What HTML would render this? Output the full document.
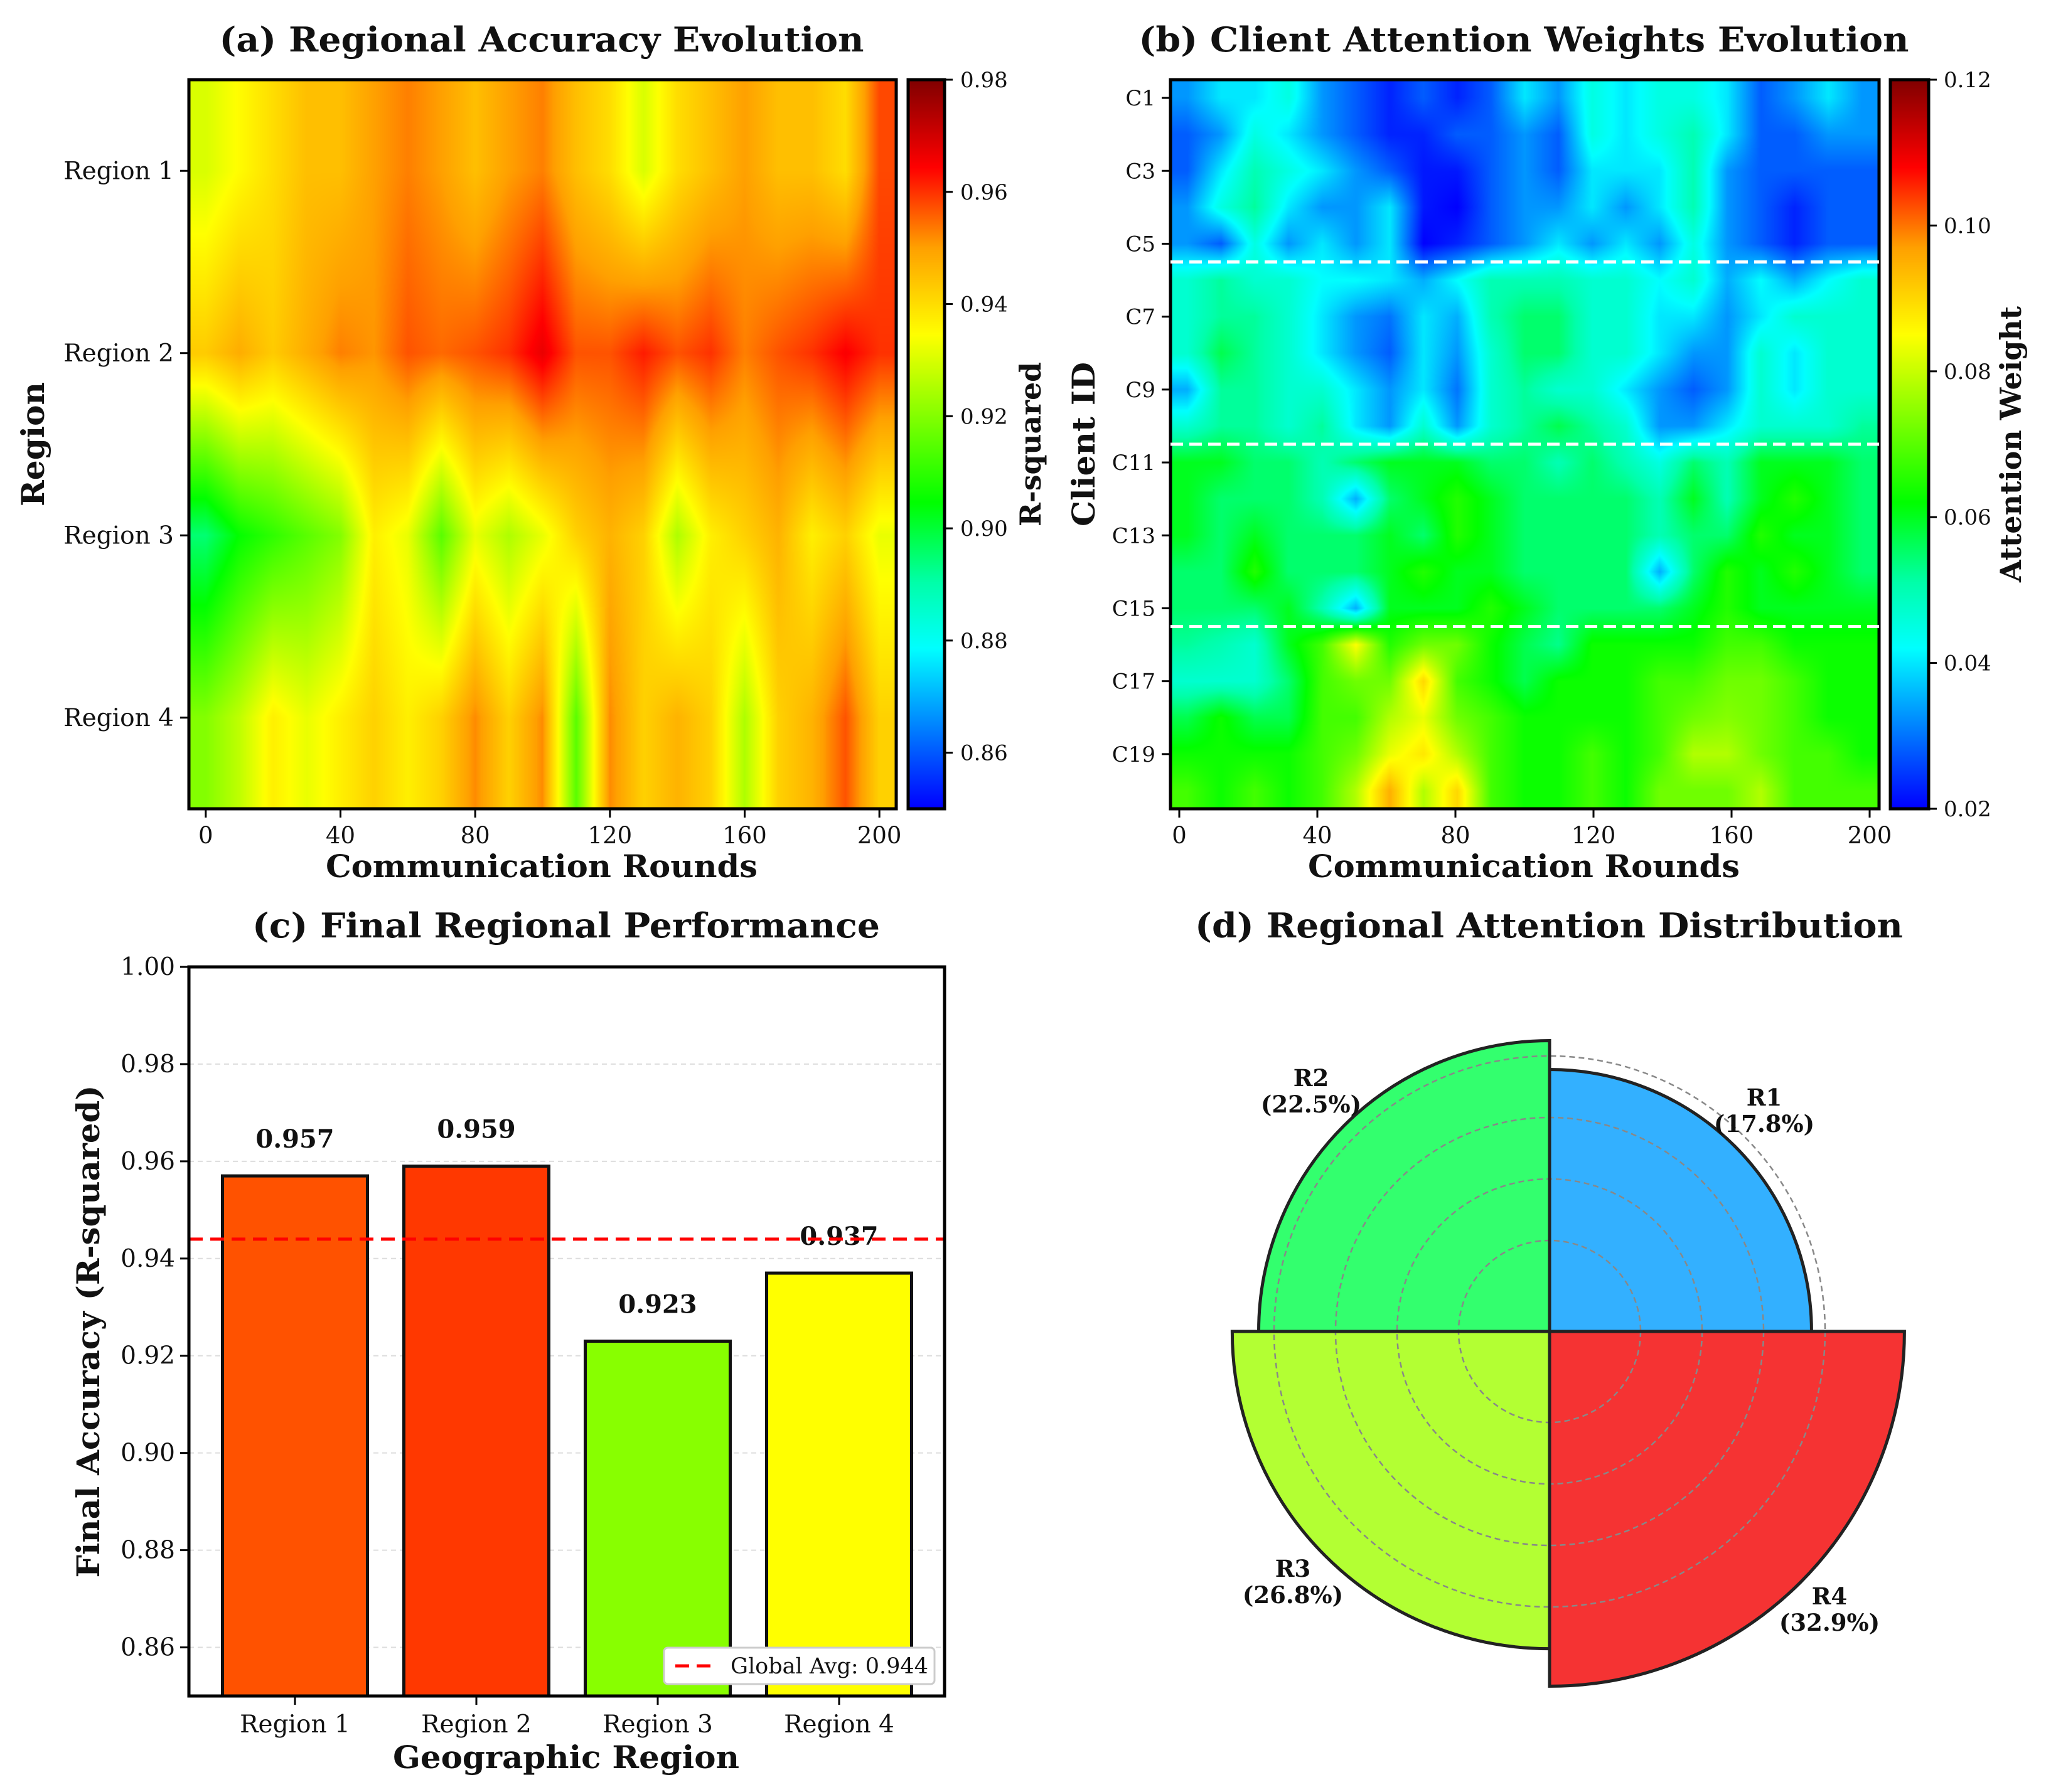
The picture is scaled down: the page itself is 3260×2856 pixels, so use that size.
<!DOCTYPE html>
<html><head><meta charset="utf-8"><title>Regional Federated Learning Dashboard</title>
<style>
html,body{margin:0;padding:0;background:#fff;}
#root{position:relative;width:3260px;height:2856px;overflow:hidden;background:#fff;}
canvas{position:absolute;}
svg{position:absolute;left:0;top:0;}
text{font-family:"DejaVu Serif","Liberation Serif",serif;fill:#111;}
</style></head>
<body>
<div id="root">
<canvas id="hmA" style="left:301px;top:127px" width="1127" height="1162"></canvas>
<canvas id="cbA" style="left:1447px;top:127px" width="58" height="1162"></canvas>
<canvas id="hmB" style="left:1865px;top:127px" width="1129" height="1162"></canvas>
<canvas id="cbB" style="left:3012px;top:127px" width="61" height="1162"></canvas>
<svg id="svg" width="3260" height="2856" viewBox="0 0 3260 2856"></svg>
</div>
<script>
// ---- data: panel (a) regional accuracy (rows Region1..4, rounds 0..200 step 10)
const regionNames = ["Region 1","Region 2","Region 3","Region 4"];
const roundTicks = [0,40,80,120,160,200];
const accR1 = [0.93,0.935,0.94,0.945,0.945,0.95,0.953,0.95,0.945,0.95,0.953,0.945,0.94,0.93,0.94,0.945,0.95,0.945,0.945,0.94,0.958];
const accR2 = [0.943,0.948,0.943,0.948,0.953,0.951,0.957,0.955,0.957,0.96,0.967,0.957,0.957,0.962,0.957,0.96,0.953,0.957,0.96,0.965,0.96];
const accR3 = [0.895,0.905,0.91,0.915,0.92,0.937,0.932,0.915,0.932,0.925,0.932,0.942,0.947,0.942,0.925,0.937,0.942,0.947,0.937,0.942,0.932];
const accR4 = [0.92,0.927,0.937,0.932,0.937,0.942,0.937,0.942,0.952,0.942,0.952,0.915,0.952,0.942,0.947,0.942,0.925,0.942,0.947,0.957,0.942];
const accTicks = [0.86,0.88,0.90,0.92,0.94,0.96,0.98];
// ---- data: panel (b) client attention (C1..C20)
const clientLabels = ["C1","C3","C5","C7","C9","C11","C13","C15","C17","C19"];
const attC1=[.033,.04,.04,.045,.033,.028,.023,.028,.023,.028,.04,.033,.045,.04,.045,.045,.04,.028,.033,.04,.033];
const attC2=[.028,.033,.045,.04,.033,.028,.023,.023,.028,.028,.033,.028,.045,.04,.045,.05,.04,.028,.028,.033,.033];
const attC3=[.028,.04,.05,.045,.04,.033,.028,.022,.022,.028,.033,.028,.04,.04,.04,.05,.033,.028,.028,.028,.028];
const attC4=[.033,.045,.052,.04,.033,.033,.04,.022,.02,.028,.033,.033,.04,.033,.04,.05,.033,.028,.023,.028,.028];
const attC5=[.033,.028,.045,.033,.04,.033,.04,.02,.023,.028,.033,.04,.033,.04,.033,.045,.033,.028,.023,.028,.028];
const attC6=[.047,.052,.047,.047,.042,.042,.04,.035,.042,.05,.05,.05,.047,.047,.042,.047,.035,.042,.035,.042,.047];
const attC7=[.047,.052,.052,.047,.04,.033,.03,.04,.035,.05,.055,.055,.047,.047,.04,.04,.033,.04,.047,.047,.047];
const attC8=[.047,.057,.052,.047,.04,.033,.028,.04,.033,.047,.055,.055,.047,.047,.04,.033,.033,.047,.04,.047,.047];
const attC9=[.035,.052,.052,.047,.047,.04,.033,.04,.03,.047,.052,.047,.047,.04,.033,.028,.033,.047,.04,.047,.047];
const attC10=[.047,.052,.052,.047,.052,.04,.033,.047,.033,.047,.052,.057,.052,.047,.033,.033,.04,.047,.047,.047,.052];
const attC11=[.06,.06,.055,.055,.05,.055,.06,.06,.06,.055,.055,.05,.055,.05,.045,.055,.05,.06,.06,.06,.055];
const attC12=[.06,.055,.055,.055,.05,.035,.055,.06,.065,.06,.055,.055,.055,.055,.05,.06,.05,.06,.065,.06,.055];
const attC13=[.06,.055,.06,.055,.055,.055,.06,.055,.065,.06,.055,.055,.055,.055,.05,.055,.055,.065,.06,.06,.055];
const attC14=[.055,.055,.065,.055,.055,.055,.06,.065,.06,.06,.055,.055,.055,.055,.035,.055,.065,.06,.065,.06,.055];
const attC15=[.055,.055,.055,.06,.05,.035,.06,.06,.06,.065,.06,.055,.055,.055,.055,.06,.065,.06,.06,.06,.06];
const attC16=[.052,.05,.047,.06,.068,.085,.065,.072,.072,.063,.057,.053,.063,.063,.063,.063,.068,.068,.063,.063,.063];
const attC17=[.047,.047,.047,.055,.068,.072,.072,.09,.068,.063,.057,.063,.063,.063,.068,.068,.072,.072,.068,.063,.063];
const attC18=[.057,.063,.057,.057,.068,.068,.078,.083,.072,.068,.063,.063,.063,.063,.068,.072,.074,.072,.068,.063,.063];
const attC19=[.063,.063,.063,.063,.068,.072,.083,.088,.078,.068,.063,.063,.068,.063,.068,.078,.078,.072,.068,.068,.063];
const attC20=[.068,.063,.068,.063,.068,.078,.095,.078,.09,.068,.063,.063,.068,.063,.072,.072,.072,.078,.068,.068,.068];
const attTicks = [0.02,0.04,0.06,0.08,0.10,0.12];
// ---- data: panel (c) final performance
const finalAcc = [0.957,0.959,0.923,0.937];
const barColors = ["#ff5200","#ff3800","#88ff00","#ffff00"];
const globalAvg = 0.944;
const perfTicks = [0.86,0.88,0.90,0.92,0.94,0.96,0.98,1.00];
// ---- data: panel (d) attention distribution
const pieLabels = ["R1","R2","R3","R4"];
const pieShares = [0.178,0.225,0.268,0.329];
const pieColors = ["#33b0ff","#33ff6e","#b3ff33","#f53333"];
const pieGrid = [-0.1,0,0.1,0.2];

const NS="http://www.w3.org/2000/svg";
const svg=document.getElementById('svg');
function mk(tag,attrs,parent){const e=document.createElementNS(NS,tag);for(const k in attrs)e.setAttribute(k,attrs[k]);(parent||svg).appendChild(e);return e;}
function txt(s,x,y,size,opts){opts=opts||{};const t=mk('text',{x:x,y:y,'font-size':size,'text-anchor':opts.anchor||'middle'});if(opts.bold)t.setAttribute('font-weight','bold');if(opts.rot)t.setAttribute('transform','rotate('+opts.rot+' '+x+' '+y+')');if(opts.len){t.setAttribute('textLength',opts.len);t.setAttribute('lengthAdjust','spacingAndGlyphs');}t.textContent=s;return t;}

const stops=[[0,[0,0,255]],[0.22,[0,255,255]],[0.31,[0,255,170]],[0.42,[0,255,0]],[0.65,[255,255,0]],[0.77,[255,160,0]],[0.88,[255,0,0]],[1,[128,0,0]]];
function cmap(t){t=Math.max(0,Math.min(1,t));for(let i=1;i<stops.length;i++){if(t<=stops[i][0]){const a=stops[i-1],b=stops[i];const f=(t-a[0])/(b[0]-a[0]);return [0,1,2].map(k=>Math.round(a[1][k]+(b[1][k]-a[1][k])*f));}}return stops[stops.length-1][1];}

function drawHeat(id,grid,vmin,vmax){
  const c=document.getElementById(id),ctx=c.getContext('2d');const W=c.width,H=c.height;
  const img=ctx.createImageData(W,H);const nr=grid.length,nc=grid[0].length;
  for(let y=0;y<H;y++){let fy=(y+0.5)/H*nr-0.5;fy=Math.max(0,Math.min(nr-1,fy));const r0=Math.floor(fy),r1=Math.min(nr-1,r0+1),wy=fy-r0;
    for(let x=0;x<W;x++){let fx=(x+0.5)/W*nc-0.5;fx=Math.max(0,Math.min(nc-1,fx));const c0=Math.floor(fx),c1=Math.min(nc-1,c0+1),wx=fx-c0;
      const v=(grid[r0][c0]*(1-wx)+grid[r0][c1]*wx)*(1-wy)+(grid[r1][c0]*(1-wx)+grid[r1][c1]*wx)*wy;
      const col=cmap((v-vmin)/(vmax-vmin));const i=(y*W+x)*4;img.data[i]=col[0];img.data[i+1]=col[1];img.data[i+2]=col[2];img.data[i+3]=255;}}
  ctx.putImageData(img,0,0);
}
function drawCbar(id){const c=document.getElementById(id),ctx=c.getContext('2d');for(let y=0;y<c.height;y++){const col=cmap(1-(y+0.5)/c.height);ctx.fillStyle='rgb('+col+')';ctx.fillRect(0,y,c.width,1);}}

const accGrid=[accR1,accR2,accR3,accR4];
const attGrid=[attC1,attC2,attC3,attC4,attC5,attC6,attC7,attC8,attC9,attC10,attC11,attC12,attC13,attC14,attC15,attC16,attC17,attC18,attC19,attC20];
drawHeat('hmA',accGrid,0.85,0.98);drawHeat('hmB',attGrid,0.02,0.12);
drawCbar('cbA');drawCbar('cbB');

function frame(x0,y0,x1,y1,name){const r=mk('rect',{x:x0,y:y0,width:x1-x0,height:y1-y0,fill:'none',stroke:'#000','stroke-width':5});}

// ---- panel (a)
const A={x0:301,x1:1428,y0:127,y1:1289};
const axX=r=>A.x0+(r+5)/210*(A.x1-A.x0);
const axY=i=>A.y0+(i+0.5)/regionNames.length*(A.y1-A.y0);
frame(A.x0,A.y0,A.x1,A.y1,'panel-a-frame');
txt('(a) Regional Accuracy Evolution',863,82,54,{bold:1,len:1027});
roundTicks.forEach(r=>{const x=axX(r);mk('line',{x1:x,y1:A.y1,x2:x,y2:A.y1+14,stroke:'#000','stroke-width':3});const t=txt(String(r),x,A.y1+55,37);});
regionNames.forEach((n,i)=>{const y=axY(i);mk('line',{x1:A.x0-14,y1:y,x2:A.x0,y2:y,stroke:'#000','stroke-width':3});const t=txt(n,A.x0-24,y+13,39,{anchor:'end'});});
txt('Communication Rounds',863,1398,50,{bold:1,len:688});
txt('Region',70,708,50,{bold:1,rot:-90,len:198});
frame(1447,127,1505,1289,'colorbar-a-frame');
accTicks.forEach(v=>{const y=1289-(v-0.85)/0.13*1162;mk('line',{x1:1505,y1:y,x2:1518,y2:y,stroke:'#000','stroke-width':3});const t=txt(v.toFixed(2),1530,y+12,34,{anchor:'start'});});
txt('R-squared',1658,708,46,{bold:1,rot:-90,len:262});

// ---- panel (b)
const B={x0:1865,x1:2994,y0:127,y1:1289};
const bxX=r=>1879+r/200*(2979-1879);
const byY=i=>B.y0+(i+0.5)/attGrid.length*(B.y1-B.y0);
frame(B.x0,B.y0,B.x1,B.y1,'panel-b-frame');
[5,10,15].forEach(k=>{const y=B.y0+k/attGrid.length*(B.y1-B.y0);const l=mk('line',{x1:B.x0,y1:y,x2:B.x1,y2:y,stroke:'#fff','stroke-width':5,'stroke-dasharray':'20 10'});});
txt('(b) Client Attention Weights Evolution',2428,82,54,{bold:1,len:1227});
roundTicks.forEach(r=>{const x=bxX(r);mk('line',{x1:x,y1:B.y1,x2:x,y2:B.y1+14,stroke:'#000','stroke-width':3});const t=txt(String(r),x,B.y1+55,37);});
clientLabels.forEach((n,i)=>{const y=byY(i*2);mk('line',{x1:B.x0-14,y1:y,x2:B.x0,y2:y,stroke:'#000','stroke-width':3});const t=txt(n,B.x0-24,y+12,34,{anchor:'end'});});
txt('Communication Rounds',2428,1398,50,{bold:1,len:688});
txt('Client ID',1744,708,50,{bold:1,rot:-90,len:262});
frame(3012,127,3073,1289,'colorbar-b-frame');
attTicks.forEach(v=>{const y=1289-(v-0.02)/0.10*1162;mk('line',{x1:3073,y1:y,x2:3086,y2:y,stroke:'#000','stroke-width':3});const t=txt(v.toFixed(2),3097,y+12,34,{anchor:'start'});});
txt('Attention Weight',3220,708,46,{bold:1,rot:-90,len:440});

// ---- panel (c)
const C={x0:301,x1:1505,y0:1541,y1:2703};
const cY=v=>C.y1-(v-0.85)/0.15*(C.y1-C.y0);
const cX=i=>470+289*i;
txt('(c) Final Regional Performance',902,1494,54,{bold:1,len:1000});
perfTicks.forEach(v=>{const y=cY(v);if(v<1){const g=mk('line',{x1:C.x0,y1:y,x2:C.x1,y2:y,stroke:'#ddd','stroke-width':2,'stroke-dasharray':'8 6'});}
  mk('line',{x1:C.x0-14,y1:y,x2:C.x0,y2:y,stroke:'#000','stroke-width':3});const t=txt(v.toFixed(2),C.x0-22,y+13,39,{anchor:'end'});});
const bw=231;
finalAcc.forEach((v,i)=>{const x=cX(i),y=cY(v);const r=mk('rect',{x:x-bw/2,y:y,width:bw,height:C.y1-y,fill:barColors[i],stroke:'#111','stroke-width':5});
  
  const t=txt(v.toFixed(3),x,y-45,40,{bold:1});
  mk('line',{x1:x,y1:C.y1,x2:x,y2:C.y1+14,stroke:'#000','stroke-width':3});
  const tl=txt(regionNames[i],x,C.y1+58,39);});
const ga=mk('line',{x1:C.x0,y1:cY(globalAvg),x2:C.x1,y2:cY(globalAvg),stroke:'#f00','stroke-width':5,'stroke-dasharray':'22 12'});

frame(C.x0,C.y0,C.x1,C.y1,'panel-c-frame');
const lg=mk('rect',{x:1058,y:2626,width:431,height:58,rx:6,fill:'#fff',stroke:'#ccc','stroke-width':3});

mk('line',{x1:1076,y1:2655,x2:1136,y2:2655,stroke:'#f00','stroke-width':5,'stroke-dasharray':'22 12'});
txt('Global Avg: '+globalAvg.toFixed(3),1164,2667,35,{anchor:'start'});
txt('Geographic Region',902,2818,50,{bold:1,len:552});
txt('Final Accuracy (R-squared)',158,2122,50,{bold:1,rot:-90,len:785});

// ---- panel (d)
const cx=2469,cy=2122;
const rad=v=>243+980*v;
txt('(d) Regional Attention Distribution',2468,1494,54,{bold:1,len:1128});
// clockwise-from-top start angles: R1 top-right, R2 top-left, R3 bottom-left, R4 bottom-right
const angStart=[0,270,180,90];
pieShares.forEach((v,i)=>{const r=rad(v);const a0=angStart[i]*Math.PI/180,a1=(angStart[i]+90)*Math.PI/180;
  const p=['M',cx,cy,'L',cx+r*Math.sin(a0),cy-r*Math.cos(a0),'A',r,r,0,0,1,cx+r*Math.sin(a1),cy-r*Math.cos(a1),'Z'].join(' ');
  const s=mk('path',{d:p,fill:pieColors[i],stroke:'#222','stroke-width':5});});
pieGrid.forEach(v=>{const c=mk('circle',{cx:cx,cy:cy,r:rad(v),fill:'none',stroke:'#888','stroke-width':2.5,'stroke-dasharray':'9 6'});});
mk('line',{x1:cx,y1:cy-rad(pieShares[1]),x2:cx,y2:cy+rad(pieShares[3]),stroke:'#222','stroke-width':5});
mk('line',{x1:cx-rad(pieShares[2]),y1:cy,x2:cx+rad(pieShares[3]),y2:cy,stroke:'#222','stroke-width':5});
const labPos=[[2811,1762],[2089,1731],[2060,2513],[2915,2557]];
pieShares.forEach((v,i)=>{const g1=txt(pieLabels[i],labPos[i][0],labPos[i][1],37,{bold:1});
  const g2=txt('('+(v*100).toFixed(1)+'%)',labPos[i][0],labPos[i][1]+42,37,{bold:1});});
</script>
</body></html>
